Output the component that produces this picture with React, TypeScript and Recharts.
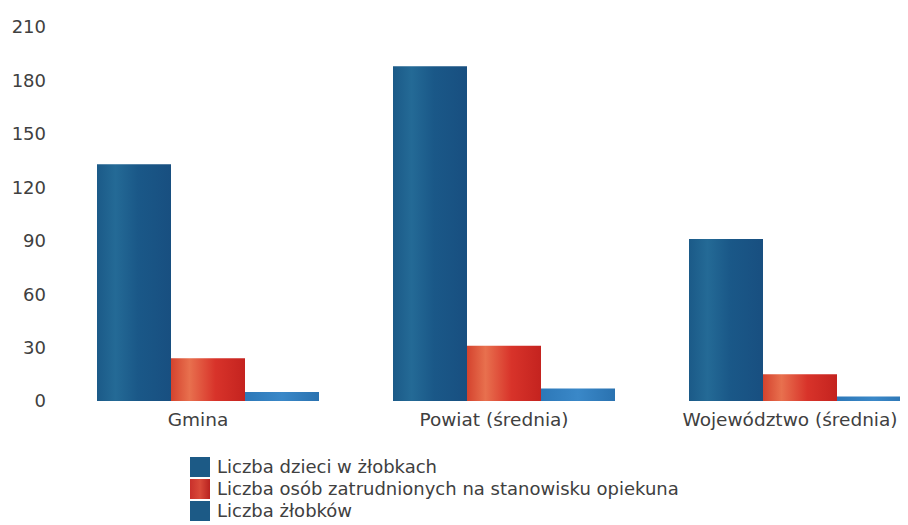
import { BarChart, Bar, XAxis, YAxis, Legend } from 'recharts';

const categories = ['Gmina', 'Powiat (średnia)', 'Województwo (średnia)'];
const dzieci = [133, 188, 91];
const opiekunowie = [24, 31, 15];
const zlobki = [5, 7, 2.5];
const yTicks = [0, 30, 60, 90, 120, 150, 180, 210];

const seriesNames = [
  'Liczba dzieci w żłobkach',
  'Liczba osób zatrudnionych na stanowisku opiekuna',
  'Liczba żłobków',
];

const data = categories.map((name, i) => ({
  name,
  dzieci: dzieci[i],
  opiekunowie: opiekunowie[i],
  zlobki: zlobki[i],
}));

const font = '"DejaVu Sans", sans-serif';
const textColor = '#404040';

function LegendBox() {
  return (
    <div style={{ fontFamily: font, fontSize: 18, color: textColor, lineHeight: '22px', paddingLeft: 182 }}>
      {seriesNames.map((n, i) => (
        <div key={n} style={{ display: 'flex', alignItems: 'center', height: 22 }}>
          <svg width={20} height={20} style={{ marginRight: 7 }}>
            <defs>
              <linearGradient id={`lg${i}`} x1="0" y1="0" x2="1" y2="0">
                {i === 1 ? (
                  <>
                    <stop offset="0%" stopColor="#c9302b" />
                    <stop offset="50%" stopColor="#d94a3a" />
                    <stop offset="100%" stopColor="#b8221f" />
                  </>
                ) : (
                  <>
                    <stop offset="0%" stopColor="#1c5a86" />
                    <stop offset="100%" stopColor="#1c5a86" />
                  </>
                )}
              </linearGradient>
            </defs>
            <rect x={0} y={0} width={20} height={20} fill={`url(#lg${i})`} />
          </svg>
          <span>{n}</span>
        </div>
      ))}
    </div>
  );
}

export default function App() {
  return (
    <div style={{ width: 900, height: 517, overflow: 'hidden', background: '#fff' }}>
      <BarChart
        width={940}
        height={514}
        data={data}
        margin={{ top: 19, right: 0, left: 0, bottom: 0 }}
        barCategoryGap="12.5%"
        barGap={0}
      >
        <defs>
          <linearGradient id="gradDark" x1="0" y1="0" x2="1" y2="0">
            <stop offset="0%" stopColor="#1b5a88" />
            <stop offset="25%" stopColor="#246a96" />
            <stop offset="55%" stopColor="#1a5888" />
            <stop offset="100%" stopColor="#184f80" />
          </linearGradient>
          <linearGradient id="gradRed" x1="0" y1="0" x2="1" y2="0">
            <stop offset="0%" stopColor="#d4432e" />
            <stop offset="25%" stopColor="#e8704e" />
            <stop offset="60%" stopColor="#d8332a" />
            <stop offset="100%" stopColor="#c4231f" />
          </linearGradient>
          <linearGradient id="gradLight" x1="0" y1="0" x2="1" y2="0">
            <stop offset="0%" stopColor="#2d78b8" />
            <stop offset="50%" stopColor="#3a88c8" />
            <stop offset="100%" stopColor="#2a72b0" />
          </linearGradient>
        </defs>
        <XAxis
          dataKey="name"
          axisLine={false}
          tickLine={false}
          tickSize={0}
          tickMargin={12}
          height={55}
          interval={0}
          tick={{ fill: textColor, fontSize: 18.5, fontFamily: font, dx: -10 }}
        />
        <YAxis
          domain={[0, 210]}
          ticks={yTicks}
          axisLine={false}
          tickLine={false}
          tickSize={0}
          tickMargin={14}
          width={52}
          tick={{ fill: textColor, fontSize: 18, fontFamily: font }}
        />
        <Legend verticalAlign="bottom" align="left" content={() => <LegendBox />} />
        <Bar dataKey="dzieci" name={seriesNames[0]} fill="url(#gradDark)" isAnimationActive={false} />
        <Bar dataKey="opiekunowie" name={seriesNames[1]} fill="url(#gradRed)" isAnimationActive={false} />
        <Bar dataKey="zlobki" name={seriesNames[2]} fill="url(#gradLight)" isAnimationActive={false} />
      </BarChart>
    </div>
  );
}
